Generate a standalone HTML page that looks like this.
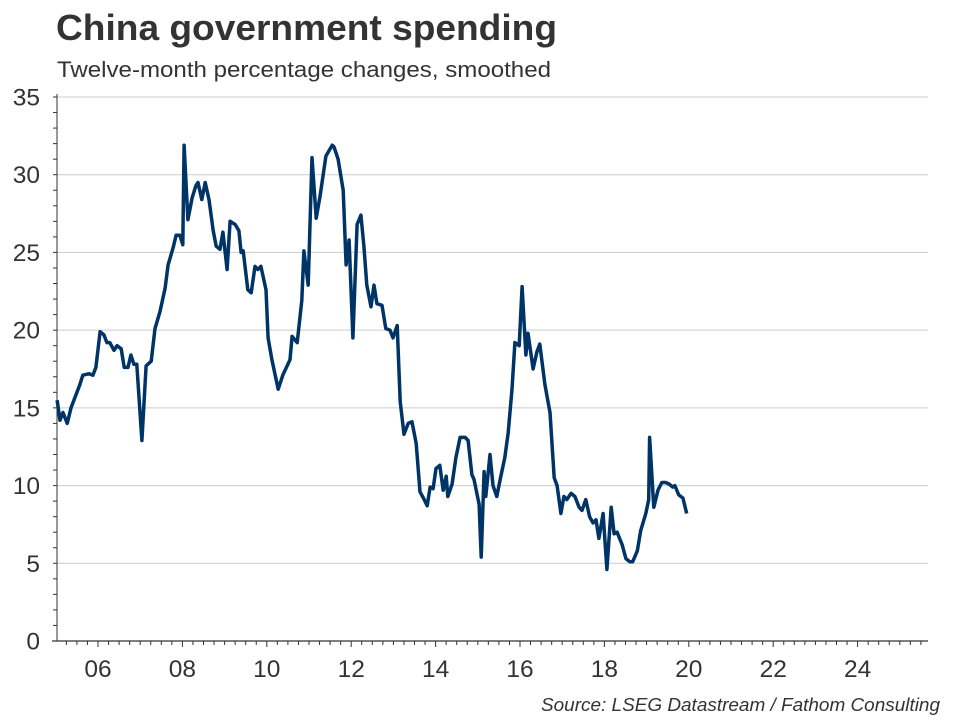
<!DOCTYPE html>
<html><head><meta charset="utf-8"><style>
body{margin:0;background:#fff;}
svg{display:block;font-family:"Liberation Sans",Arial,sans-serif;}
</style></head><body>
<svg width="960" height="720">
<text x="56" y="40" font-size="36" font-weight="bold" fill="#333" textLength="501" lengthAdjust="spacingAndGlyphs">China government spending</text>
<text x="57" y="77" font-size="22" fill="#333" textLength="494" lengthAdjust="spacingAndGlyphs">Twelve-month percentage changes, smoothed</text>
<g id="grid"></g>
<g id="axes"></g>
<path id="line" fill="none" stroke="#003366" stroke-width="3.5" stroke-linejoin="round"/>
<text x="940" y="711" font-size="18.5" font-style="italic" fill="#333" text-anchor="end" textLength="399" lengthAdjust="spacingAndGlyphs">Source: LSEG Datastream / Fathom Consulting</text>
</svg>
<script>
const dates=[2005.03,2005.10,2005.17,2005.27,2005.36,2005.57,2005.64,2005.79,2005.88,2005.95,2006.05,2006.14,2006.21,2006.28,2006.38,2006.45,2006.55,2006.62,2006.71,2006.78,2006.85,2006.92,2007.04,2007.14,2007.26,2007.35,2007.47,2007.59,2007.66,2007.78,2007.85,2007.94,2008.01,2008.04,2008.13,2008.23,2008.32,2008.37,2008.46,2008.54,2008.63,2008.73,2008.80,2008.89,2008.96,2009.06,2009.13,2009.25,2009.34,2009.39,2009.44,2009.55,2009.63,2009.72,2009.79,2009.86,2009.98,2010.03,2010.12,2010.27,2010.38,2010.55,2010.60,2010.72,2010.83,2010.88,2010.98,2011.07,2011.17,2011.26,2011.40,2011.55,2011.59,2011.69,2011.81,2011.88,2011.95,2012.04,2012.14,2012.23,2012.30,2012.37,2012.47,2012.54,2012.61,2012.73,2012.82,2012.92,2012.99,2013.09,2013.16,2013.25,2013.35,2013.44,2013.54,2013.63,2013.73,2013.80,2013.87,2013.94,2014.01,2014.10,2014.18,2014.25,2014.29,2014.39,2014.48,2014.58,2014.70,2014.77,2014.86,2014.91,2015.03,2015.08,2015.15,2015.19,2015.29,2015.36,2015.45,2015.53,2015.64,2015.72,2015.81,2015.88,2015.98,2016.05,2016.14,2016.19,2016.31,2016.40,2016.47,2016.59,2016.71,2016.81,2016.88,2016.97,2017.04,2017.11,2017.21,2017.30,2017.40,2017.47,2017.56,2017.65,2017.73,2017.80,2017.87,2017.97,2018.06,2018.16,2018.23,2018.30,2018.42,2018.51,2018.60,2018.67,2018.78,2018.86,2018.98,2019.05,2019.07,2019.17,2019.27,2019.36,2019.45,2019.53,2019.62,2019.67,2019.76,2019.86,2019.95];
const values=[15.5,14.2,14.7,14.0,15.0,16.5,17.1,17.2,17.1,17.6,19.9,19.7,19.2,19.2,18.7,19.0,18.8,17.6,17.6,18.4,17.8,17.8,12.9,17.7,18.0,20.1,21.2,22.7,24.2,25.3,26.1,26.1,25.5,31.9,27.1,28.5,29.3,29.5,28.4,29.5,28.4,26.4,25.4,25.2,26.3,23.9,27.0,26.8,26.4,25.0,25.1,22.6,22.4,24.1,23.9,24.1,22.6,19.5,18.1,16.2,17.1,18.1,19.6,19.2,21.9,25.1,22.9,31.1,27.2,28.6,31.2,31.9,31.8,31.0,29.0,24.2,25.8,19.5,26.8,27.4,25.4,22.9,21.5,22.9,21.7,21.6,20.1,20.0,19.5,20.3,15.4,13.3,14.0,14.1,12.7,9.6,9.1,8.7,9.9,9.8,11.1,11.3,9.7,10.6,9.3,10.1,11.8,13.1,13.1,12.9,10.7,10.4,8.8,5.4,10.9,9.3,12.0,10.0,9.3,10.4,11.8,13.4,16.2,19.2,19.0,22.8,18.4,19.8,17.5,18.6,19.1,16.5,14.7,10.5,10.0,8.2,9.3,9.1,9.5,9.3,8.6,8.4,9.1,8.0,7.6,7.8,6.6,8.2,4.6,8.6,6.9,7.0,6.2,5.3,5.1,5.1,5.8,7.1,8.2,9.1,13.1,8.6,9.7,10.2,10.2,10.1,9.9,10.0,9.4,9.2,8.2];
const yTicks=[0,5,10,15,20,25,30,35];
const xTickYears=[2006,2008,2010,2012,2014,2016,2018,2020,2022,2024];
const xTickLabels=["06","08","10","12","14","16","18","20","22","24"];
const X0=57,X1=928,Y0=641,Y1=97;
const xs=t=>98+(t-2006)*42.2;
const ys=v=>Y0-(v/35)*(Y0-Y1);
const NS="http://www.w3.org/2000/svg";
const grid=document.getElementById('grid'),axes=document.getElementById('axes');
function mk(tag,attrs,parent){const e=document.createElementNS(NS,tag);for(const k in attrs)e.setAttribute(k,attrs[k]);parent.appendChild(e);return e;}
yTicks.forEach(v=>{
  if(v>0){const g=mk('line',{x1:X0,x2:X1,y1:ys(v),y2:ys(v),stroke:'#cccccc','stroke-width':1},grid);
  
  }
  const t=mk('text',{x:40,y:ys(v)+8.5,'font-size':24.5,fill:'#333','text-anchor':'end'},axes);
  t.textContent=v;
  
  
});
for(let v=0;v<=35;v++){
  const l=mk('line',{x1:X0-4,x2:X0,y1:ys(v),y2:ys(v),stroke:'#333','stroke-width':1},axes);
  
  
}
const ya=mk('line',{x1:X0,x2:X0,y1:Y1-3,y2:Y0,stroke:'#333','stroke-width':1},axes);


const xa=mk('line',{x1:X0-5,x2:X1,y1:Y0,y2:Y0,stroke:'#333','stroke-width':1.2},axes);


for(let q=2005;q<=2025.75;q+=0.25){
  const x=xs(q); if(x<X0||x>X1)continue;
  const maj=Math.abs(q-Math.round(q))<1e-6&&Math.round(q)%2===0;
  const l=mk('line',{x1:x,x2:x,y1:Y0,y2:Y0+(maj?6:4),stroke:'#333','stroke-width':1},axes);
  
  
}
xTickYears.forEach((yr,i)=>{
  const t=mk('text',{x:xs(yr),y:Y0+36,'font-size':24.5,fill:'#333','text-anchor':'middle'},axes);
  t.textContent=xTickLabels[i];
  
  
});
document.getElementById('line').setAttribute('d',dates.map((d,i)=>(i?'L':'M')+xs(d).toFixed(1)+','+ys(values[i]).toFixed(1)).join(''));
</script>
</body></html>
